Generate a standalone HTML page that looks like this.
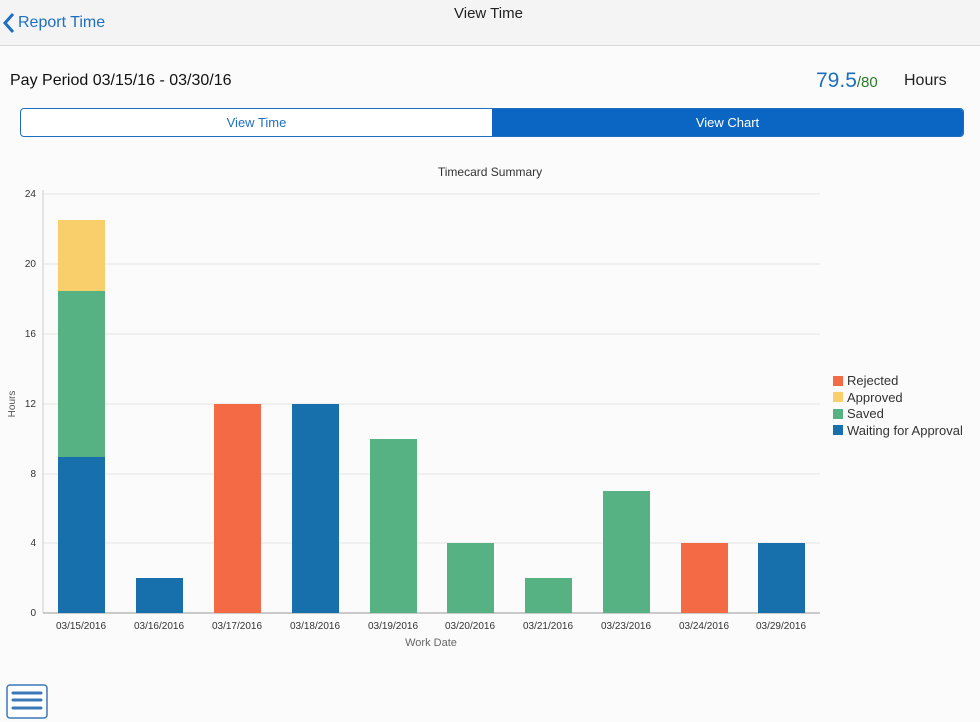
<!DOCTYPE html>
<html><head><meta charset="utf-8"><style>
body{margin:0;width:980px;height:722px;background:#fbfbfb;font-family:"Liberation Sans",sans-serif;position:relative;overflow:hidden}
.hdr{position:absolute;left:0;top:0;width:980px;height:45px;background:#f4f4f4;border-bottom:1px solid #d8d8d8}
.abs{position:absolute;white-space:nowrap}
</style></head><body>
<div class="hdr"></div>
<svg class="abs" style="left:3px;top:12px" width="12" height="22"><polyline points="10,2 2,11 10,20" fill="none" stroke="#1f6fc0" stroke-width="3"/></svg>
<div class="abs" style="left:18px;top:14px;font-size:16px;color:#1f6fc0">Report Time</div>
<div class="abs" style="left:454px;top:5px;font-size:15px;color:#222">View Time</div>
<div class="abs" style="left:10px;top:72px;font-size:16px;color:#111">Pay Period 03/15/16 - 03/30/16</div>
<div class="abs" style="left:816px;top:69px;font-size:21px;color:#1f6fc0">79.5<span style="font-size:15px;color:#2a7a2a">/80</span></div>
<div class="abs" style="left:904px;top:72px;font-size:16px;color:#222">Hours</div>
<div class="abs" style="left:20px;top:108px;width:942px;height:27px;border:1px solid #1f6fc0;border-radius:4px;background:#fff;overflow:hidden">
<div style="position:absolute;left:0;top:0;width:471px;height:27px;line-height:27px;text-align:center;font-size:13px;color:#1f6fc0">View Time</div>
<div style="position:absolute;left:471px;top:0;width:471px;height:27px;line-height:27px;text-align:center;font-size:13px;color:#fff;background:#0a66c2">View Chart</div>
</div>
<svg class="abs" style="left:0;top:0" width="980" height="722" font-family="Liberation Sans, sans-serif">
<text x="490" y="176" font-size="12" text-anchor="middle" fill="#333">Timecard Summary</text>
<g stroke="#e6e6e6" stroke-width="1">
<line x1="43" x2="820" y1="194" y2="194"/><line x1="43" x2="820" y1="264" y2="264"/><line x1="43" x2="820" y1="334" y2="334"/><line x1="43" x2="820" y1="404" y2="404"/><line x1="43" x2="820" y1="474" y2="474"/><line x1="43" x2="820" y1="543" y2="543"/>
</g>
<line x1="43" x2="820" y1="613" y2="613" stroke="#999"/>
<line x1="43" x2="43" y1="190" y2="613" stroke="#ccc"/>
<g font-size="10" fill="#333" text-anchor="end">
<text x="36" y="197">24</text><text x="36" y="267">20</text><text x="36" y="337">16</text><text x="36" y="407">12</text><text x="36" y="477">8</text><text x="36" y="546">4</text><text x="36" y="616">0</text>
</g>
<text x="15" y="404" font-size="10" fill="#555" text-anchor="middle" transform="rotate(-90 15 404)">Hours</text>
<rect x="58" y="220" width="47" height="71" fill="#f9cf6c"/>
<rect x="58" y="291" width="47" height="166" fill="#56b183"/>
<rect x="58" y="457" width="47" height="156" fill="#1770ac"/>
<rect x="136" y="578" width="47" height="35" fill="#1770ac"/>
<rect x="214" y="404" width="47" height="209" fill="#f46a45"/>
<rect x="292" y="404" width="47" height="209" fill="#1770ac"/>
<rect x="370" y="439" width="47" height="174" fill="#56b183"/>
<rect x="447" y="543" width="47" height="70" fill="#56b183"/>
<rect x="525" y="578" width="47" height="35" fill="#56b183"/>
<rect x="603" y="491" width="47" height="122" fill="#56b183"/>
<rect x="681" y="543" width="47" height="70" fill="#f46a45"/>
<rect x="758" y="543" width="47" height="70" fill="#1770ac"/>
<g font-size="10" fill="#333" text-anchor="middle">
<text x="81" y="629">03/15/2016</text><text x="159" y="629">03/16/2016</text><text x="237" y="629">03/17/2016</text><text x="315" y="629">03/18/2016</text><text x="393" y="629">03/19/2016</text><text x="470" y="629">03/20/2016</text><text x="548" y="629">03/21/2016</text><text x="626" y="629">03/23/2016</text><text x="704" y="629">03/24/2016</text><text x="781" y="629">03/29/2016</text>
</g>
<text x="431" y="646" font-size="11" fill="#666" text-anchor="middle">Work Date</text>
<rect x="833" y="376" width="10" height="10" fill="#f46a45"/><text x="847" y="385" font-size="13" fill="#333">Rejected</text>
<rect x="833" y="392" width="10" height="10" fill="#f9cf6c"/><text x="847" y="402" font-size="13" fill="#333">Approved</text>
<rect x="833" y="409" width="10" height="10" fill="#56b183"/><text x="847" y="418" font-size="13" fill="#333">Saved</text>
<rect x="833" y="425" width="10" height="10" fill="#1770ac"/><text x="847" y="435" font-size="13" fill="#333">Waiting for Approval</text>
<rect x="7" y="685" width="40" height="33" rx="3" fill="#fff" stroke="#3a78b8" stroke-width="1.5"/>
<g stroke="#3a78b8" stroke-width="3" stroke-linecap="round"><line x1="13" x2="41" y1="693" y2="693"/><line x1="13" x2="41" y1="700" y2="700"/><line x1="13" x2="41" y1="708" y2="708"/></g>
</svg>
</body></html>
